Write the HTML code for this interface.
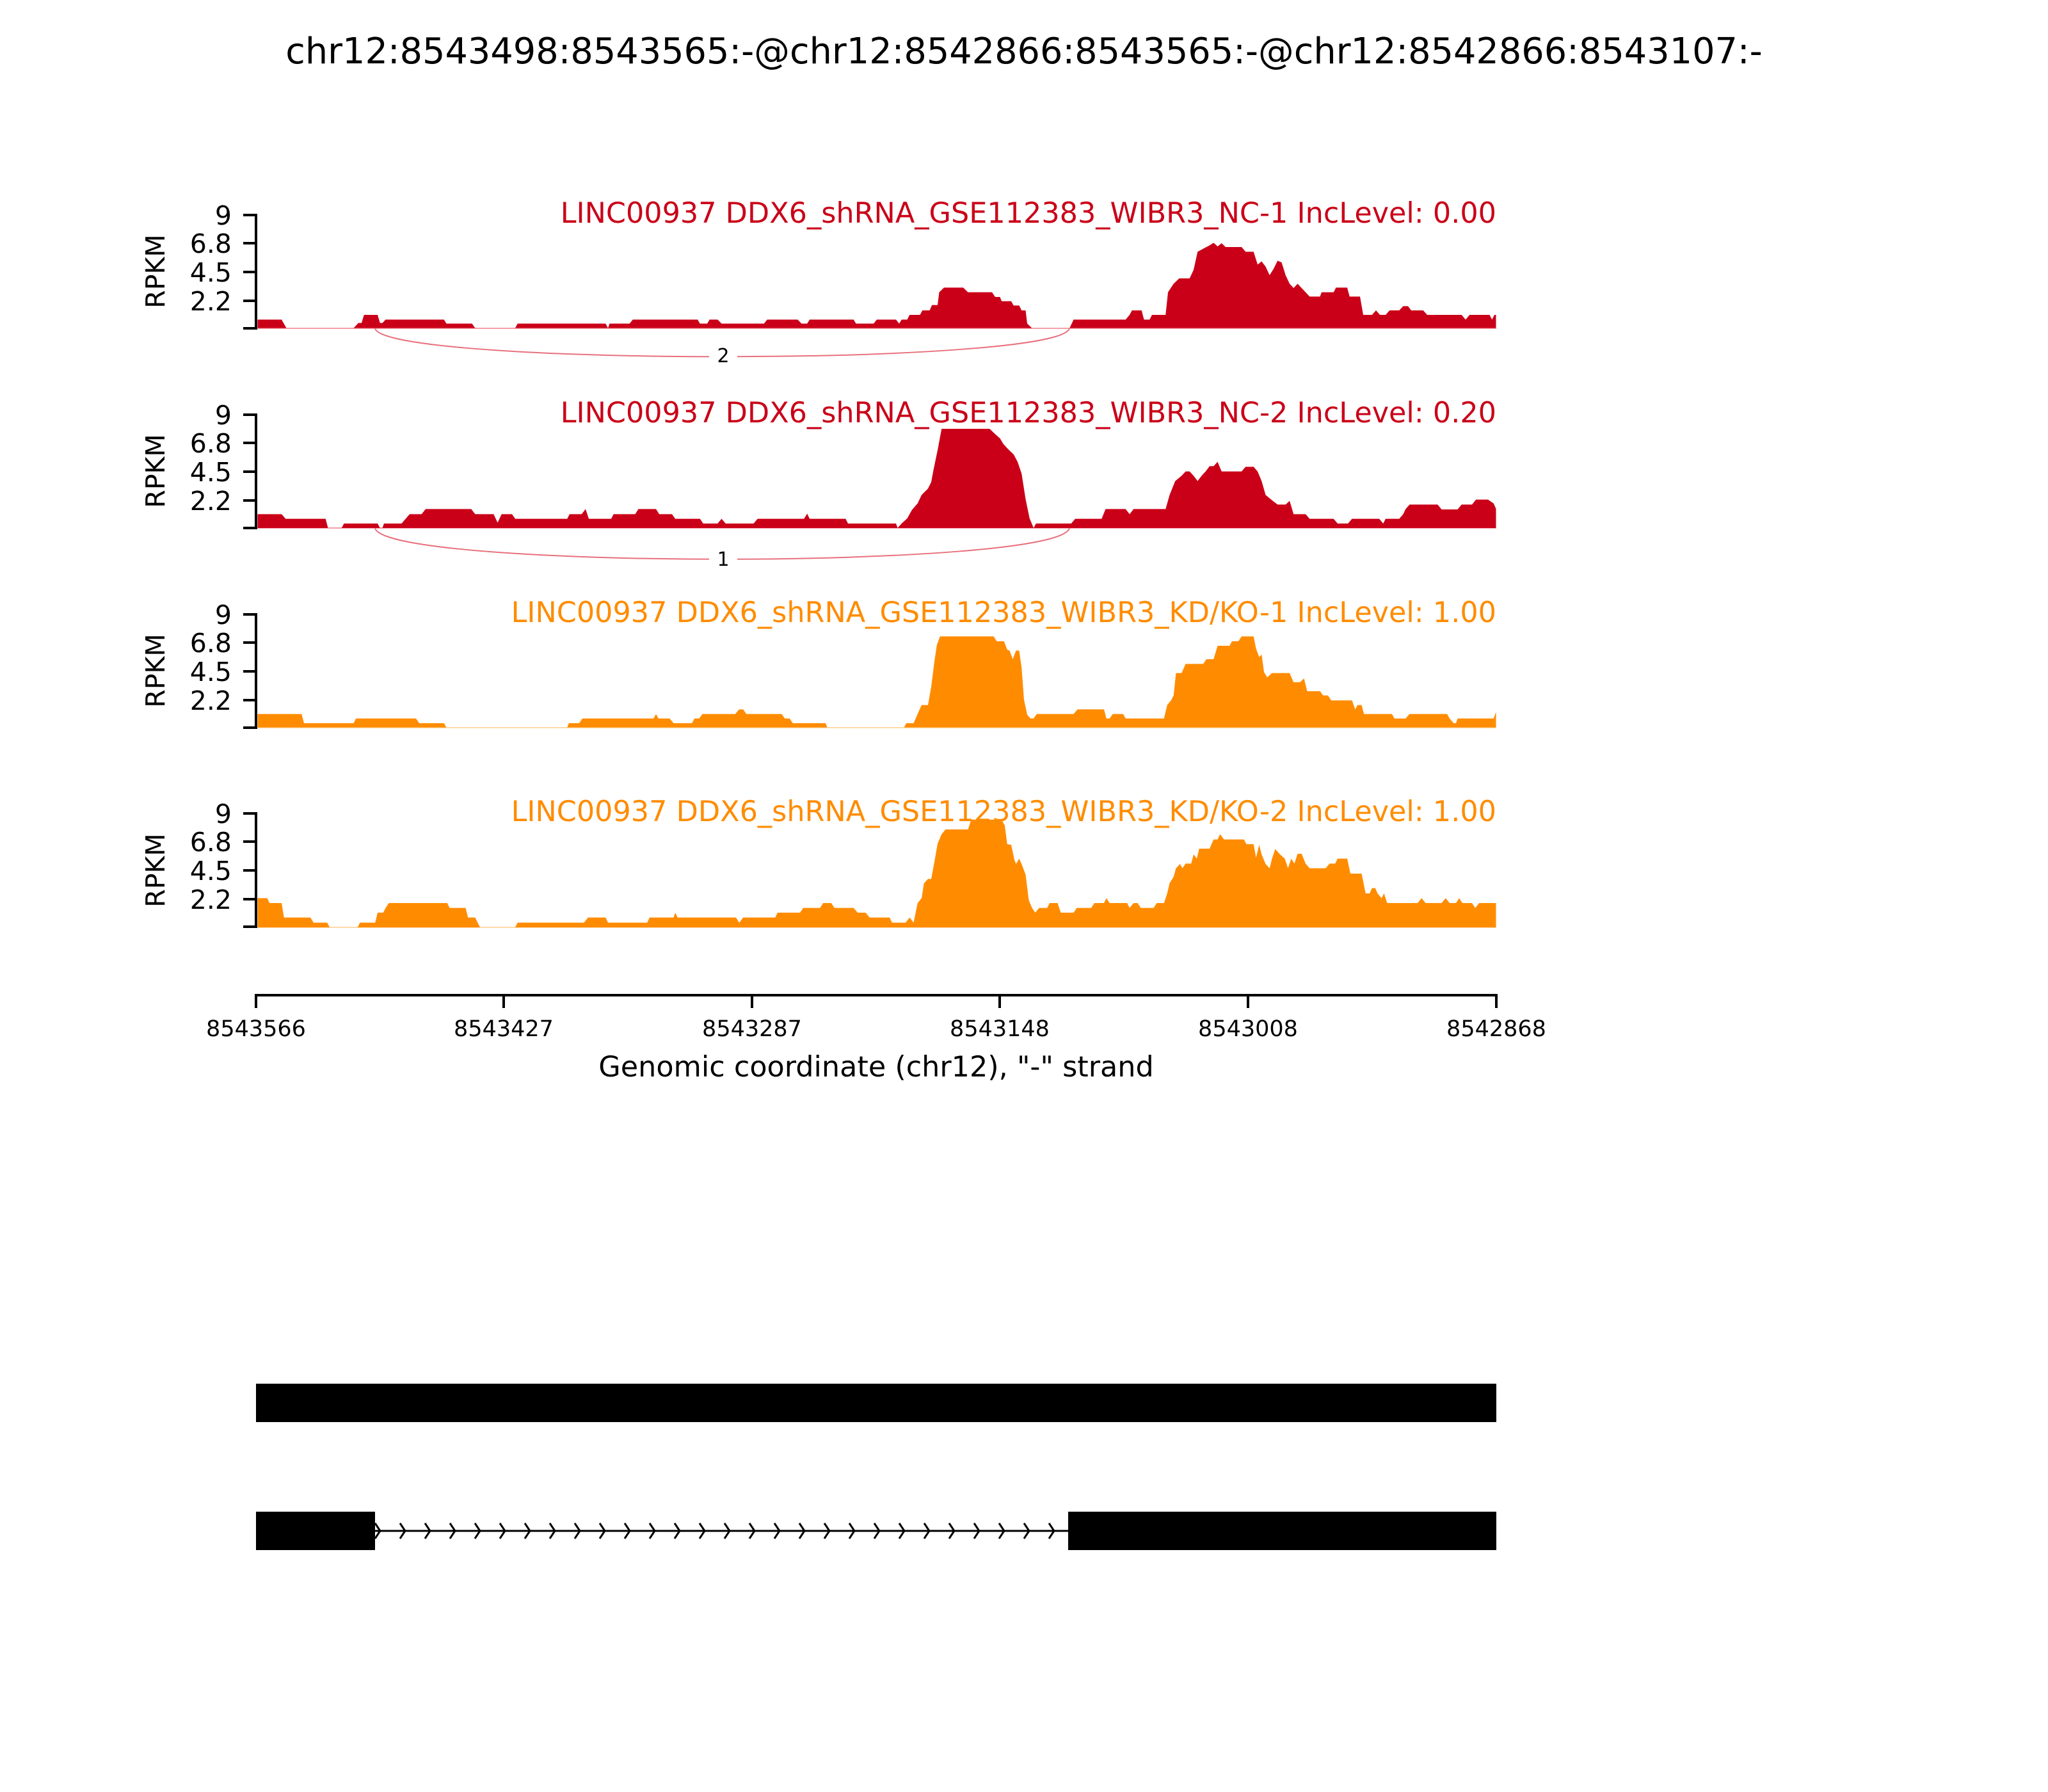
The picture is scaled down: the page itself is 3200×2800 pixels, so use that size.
<!DOCTYPE html>
<html><head><meta charset="utf-8"><style>
html,body{margin:0;padding:0;background:#fff}
svg{display:block}
text{font-family:"DejaVu Sans","Liberation Sans",sans-serif}
</style></head><body>
<svg width="3200" height="2800" viewBox="0 0 3200 2800" xmlns="http://www.w3.org/2000/svg">
<rect width="3200" height="2800" fill="#fff"/>
<text x="1600" y="99" font-size="55.7" text-anchor="middle">chr12:8543498:8543565:-@chr12:8542866:8543565:-@chr12:8542866:8543107:-</text>

<!-- Track 1 -->
<g>
<line x1="400" y1="513" x2="2338" y2="513" stroke="#f2a0a8" stroke-width="2"/>
<g transform="translate(390,330) scale(1.25,0.33333)">
<polygon fill="#ca0018" points="10,548 10,508 40,508 46,548 130,548 136,524 140,524 143,486 160,486 163,524 166,524 170,508 243,508 246,527 278,527 282,548 332,548 335,527 445,527 448,548 450,527 475,527 479,508 560,508 563,527 572,527 575,508 585,508 590,527 643,527 647,508 685,508 690,527 697,527 700,508 755,508 758,527 780,527 784,508 808,508 812,527 815,508 822,508 825,486 838,486 841,465 850,465 853,440 860,440 862,380 868,358 892,358 898,380 928,380 932,402 938,402 940,422 952,422 955,442 962,442 965,465 970,465 972,527 978,548 1025,548 1030,508 1095,508 1100,486 1103,465 1115,465 1118,508 1125,508 1128,486 1145,486 1148,380 1155,340 1162,315 1175,315 1180,275 1185,190 1195,170 1200,160 1205,148 1210,165 1215,150 1220,168 1240,168 1245,190 1255,190 1260,250 1265,235 1270,260 1275,300 1280,270 1285,232 1290,240 1295,300 1300,340 1305,360 1310,340 1315,360 1320,380 1325,400 1338,400 1340,380 1355,380 1358,358 1372,358 1375,400 1388,400 1392,486 1403,486 1408,465 1413,486 1420,486 1425,465 1437,465 1442,445 1448,445 1452,465 1467,465 1472,486 1515,486 1520,508 1525,486 1550,486 1553,508 1556,486 1558,486 1558,548"/>
</g>
<path d="M586,513 C600,572 1657,572 1671,513" fill="none" stroke="#e8707c" stroke-width="2"/>
<rect x="1108" y="535" width="44" height="40" fill="#fff"/>
<text x="1130" y="566" font-size="30" text-anchor="middle">2</text>
</g>

<!-- Track 2 -->
<g>
<line x1="400" y1="825" x2="2338" y2="825" stroke="#f2a0a8" stroke-width="2"/>
<g transform="translate(390,640) scale(1.25,0.33333)">
<polygon fill="#ca0018" points="10,555 10,490 40,490 45,512 95,512 98,555 115,555 118,534 160,534 163,555 166,555 168,534 190,534 195,512 200,490 215,490 220,466 277,466 282,490 305,490 310,530 315,490 328,490 332,512 397,512 400,490 415,490 420,466 424,512 452,512 455,490 482,490 486,466 508,466 512,490 528,490 532,512 563,512 567,534 585,534 590,512 595,534 630,534 635,512 693,512 697,488 700,512 745,512 748,534 808,534 810,555 815,534 822,510 828,470 835,440 840,400 848,370 852,340 855,280 860,190 865,90 925,90 932,115 938,135 942,160 948,185 955,210 960,245 965,300 970,420 975,510 980,555 983,534 1027,534 1032,512 1065,512 1070,466 1095,466 1100,490 1105,466 1145,466 1150,400 1157,335 1165,310 1170,290 1175,290 1180,310 1185,335 1190,310 1195,290 1200,265 1205,265 1210,245 1215,290 1240,290 1245,268 1255,268 1260,290 1265,335 1270,400 1278,425 1285,445 1295,445 1300,428 1305,490 1320,490 1325,512 1355,512 1360,534 1373,534 1378,512 1412,512 1417,534 1420,512 1437,512 1442,490 1445,466 1450,445 1485,445 1490,468 1510,468 1515,445 1528,445 1533,422 1548,422 1555,440 1558,465 1558,555"/>
</g>
<path d="M586,825 C600,890 1657,890 1671,825" fill="none" stroke="#e8707c" stroke-width="2"/>
<rect x="1108" y="853" width="44" height="40" fill="#fff"/>
<text x="1130" y="884" font-size="30" text-anchor="middle">1</text>
</g>

<!-- Track 3 -->
<g>
<line x1="400" y1="1137" x2="2338" y2="1137" stroke="#ffd9a8" stroke-width="2"/>
<g transform="translate(390,950) scale(1.25,0.33333)">
<polygon fill="#ff8c00" points="10,560 10,497 65,497 68,540 130,540 133,518 208,518 212,540 243,540 246,560 397,560 399,540 412,540 416,518 505,518 508,497 511,518 525,518 530,540 553,540 556,518 562,518 566,497 607,497 612,475 617,475 621,497 665,497 669,518 675,518 679,540 720,540 722,560 818,560 821,540 830,540 835,497 840,455 848,455 852,370 856,250 859,175 863,133 930,133 934,156 943,156 947,195 950,200 954,240 958,200 962,200 965,280 968,430 972,500 976,518 980,518 984,497 1030,497 1035,475 1068,475 1071,518 1075,518 1079,497 1092,497 1095,518 1143,518 1147,455 1152,432 1155,410 1158,305 1165,305 1170,262 1192,262 1196,240 1205,240 1210,177 1225,177 1228,156 1236,156 1240,133 1255,133 1258,190 1262,230 1265,218 1268,300 1272,325 1278,305 1300,305 1305,348 1313,348 1318,330 1322,390 1338,390 1342,410 1348,410 1352,433 1378,433 1382,475 1385,455 1390,455 1393,497 1428,497 1431,518 1445,518 1450,497 1497,497 1500,518 1505,540 1508,540 1510,518 1555,518 1558,487 1558,560"/>
</g>
</g>

<!-- Track 4 -->
<g>
<line x1="400" y1="1449" x2="2338" y2="1449" stroke="#ffd9a8" stroke-width="2"/>
<g transform="translate(390,1260) scale(1.25,0.33333)">
<polygon fill="#ff8c00" points="10,567 10,430 22,430 25,453 40,453 43,521 76,521 80,545 97,545 100,567 135,567 138,545 157,545 160,498 167,498 170,476 174,453 247,453 250,476 270,476 273,521 282,521 285,545 288,567 332,567 335,545 418,545 423,521 445,521 448,545 497,545 500,521 530,521 532,498 535,521 608,521 612,545 617,521 657,521 660,498 688,498 692,476 713,476 717,453 727,453 731,476 755,476 760,498 770,498 775,521 800,521 803,545 820,545 825,521 830,545 835,453 840,430 843,360 848,340 852,340 856,260 860,175 865,130 870,108 898,108 902,62 940,62 944,90 947,177 952,180 956,250 958,270 962,245 965,270 970,320 974,440 978,475 982,498 987,476 997,476 1000,453 1010,453 1014,498 1030,498 1034,476 1052,476 1056,453 1068,453 1071,430 1075,453 1097,453 1100,476 1105,453 1110,453 1114,476 1130,476 1134,453 1143,453 1147,408 1150,360 1155,330 1158,290 1163,270 1166,290 1170,268 1177,268 1180,225 1184,245 1187,198 1200,198 1205,155 1210,155 1213,130 1218,155 1243,155 1246,177 1255,177 1258,240 1262,180 1265,225 1270,270 1275,290 1278,245 1282,200 1288,225 1294,245 1298,290 1302,245 1306,268 1310,222 1315,222 1320,268 1325,290 1345,290 1350,268 1357,268 1360,245 1372,245 1376,315 1390,315 1395,408 1400,408 1403,383 1407,383 1410,408 1415,430 1418,408 1422,453 1460,453 1465,430 1470,453 1490,453 1495,430 1500,453 1508,453 1512,430 1516,453 1528,453 1532,476 1537,453 1558,453 1558,567"/>
</g>
</g>

<!-- Y axes -->
<g stroke="#000" stroke-width="4" fill="none">
<path d="M380,336 H400 V513 H380 M380,380 H400 M380,425 H400 M380,470 H400"/>
<path d="M380,648 H400 V825 H380 M380,692 H400 M380,737 H400 M380,782 H400"/>
<path d="M380,960 H400 V1137 H380 M380,1004 H400 M380,1049 H400 M380,1094 H400"/>
<path d="M380,1271 H400 V1448 H380 M380,1315 H400 M380,1360 H400 M380,1405 H400"/>
</g>
<g font-size="41" text-anchor="end">
<text x="362" y="351">9</text><text x="362" y="395">6.8</text><text x="362" y="440">4.5</text><text x="362" y="485">2.2</text>
<text x="362" y="663">9</text><text x="362" y="707">6.8</text><text x="362" y="752">4.5</text><text x="362" y="797">2.2</text>
<text x="362" y="975">9</text><text x="362" y="1019">6.8</text><text x="362" y="1064">4.5</text><text x="362" y="1109">2.2</text>
<text x="362" y="1286">9</text><text x="362" y="1330">6.8</text><text x="362" y="1375">4.5</text><text x="362" y="1420">2.2</text>
</g>
<g font-size="41" text-anchor="middle">
<text transform="translate(257,424) rotate(-90)">RPKM</text>
<text transform="translate(257,736) rotate(-90)">RPKM</text>
<text transform="translate(257,1048) rotate(-90)">RPKM</text>
<text transform="translate(257,1360) rotate(-90)">RPKM</text>
</g>
<g font-size="44.5" text-anchor="end">
<text x="2338" y="348" fill="#ca0018">LINC00937 DDX6_shRNA_GSE112383_WIBR3_NC-1 IncLevel: 0.00</text>
<text x="2338" y="660" fill="#ca0018">LINC00937 DDX6_shRNA_GSE112383_WIBR3_NC-2 IncLevel: 0.20</text>
<text x="2338" y="972" fill="#ff8c00">LINC00937 DDX6_shRNA_GSE112383_WIBR3_KD/KO-1 IncLevel: 1.00</text>
<text x="2338" y="1283" fill="#ff8c00">LINC00937 DDX6_shRNA_GSE112383_WIBR3_KD/KO-2 IncLevel: 1.00</text>
</g>

<!-- X axis -->
<g stroke="#000" stroke-width="4" fill="none">
<path d="M400,1555 H2338 M400,1553 V1575 M787,1555 V1575 M1175,1555 V1575 M1562,1555 V1575 M1950,1555 V1575 M2338,1553 V1575"/>
</g>
<g font-size="35" text-anchor="middle">
<text x="400" y="1619">8543566</text>
<text x="787" y="1619">8543427</text>
<text x="1175" y="1619">8543287</text>
<text x="1562" y="1619">8543148</text>
<text x="1950" y="1619">8543008</text>
<text x="2338" y="1619">8542868</text>
</g>
<text x="1369" y="1682" font-size="44.5" text-anchor="middle">Genomic coordinate (chr12), "-" strand</text>

<!-- Gene models -->
<rect x="400" y="2162" width="1938" height="60" fill="#000"/>
<line x1="586" y1="2392" x2="1669" y2="2392" stroke="#000" stroke-width="3"/>
<g stroke="#000" stroke-width="3" fill="none">
<path d="M586,2380 L594,2392 L586,2404"/>
<path d="M625,2380 L633,2392 L625,2404"/>
<path d="M664,2380 L672,2392 L664,2404"/>
<path d="M703,2380 L711,2392 L703,2404"/>
<path d="M742,2380 L750,2392 L742,2404"/>
<path d="M781,2380 L789,2392 L781,2404"/>
<path d="M820,2380 L828,2392 L820,2404"/>
<path d="M859,2380 L867,2392 L859,2404"/>
<path d="M898,2380 L906,2392 L898,2404"/>
<path d="M937,2380 L945,2392 L937,2404"/>
<path d="M976,2380 L984,2392 L976,2404"/>
<path d="M1015,2380 L1023,2392 L1015,2404"/>
<path d="M1054,2380 L1062,2392 L1054,2404"/>
<path d="M1093,2380 L1101,2392 L1093,2404"/>
<path d="M1132,2380 L1140,2392 L1132,2404"/>
<path d="M1171,2380 L1179,2392 L1171,2404"/>
<path d="M1210,2380 L1218,2392 L1210,2404"/>
<path d="M1249,2380 L1257,2392 L1249,2404"/>
<path d="M1288,2380 L1296,2392 L1288,2404"/>
<path d="M1327,2380 L1335,2392 L1327,2404"/>
<path d="M1366,2380 L1374,2392 L1366,2404"/>
<path d="M1405,2380 L1413,2392 L1405,2404"/>
<path d="M1444,2380 L1452,2392 L1444,2404"/>
<path d="M1483,2380 L1491,2392 L1483,2404"/>
<path d="M1522,2380 L1530,2392 L1522,2404"/>
<path d="M1561,2380 L1569,2392 L1561,2404"/>
<path d="M1600,2380 L1608,2392 L1600,2404"/>
<path d="M1639,2380 L1647,2392 L1639,2404"/>
</g>
<rect x="400" y="2362" width="186" height="60" fill="#000"/>
<rect x="1669" y="2362" width="669" height="60" fill="#000"/>
</svg>
</body></html>
